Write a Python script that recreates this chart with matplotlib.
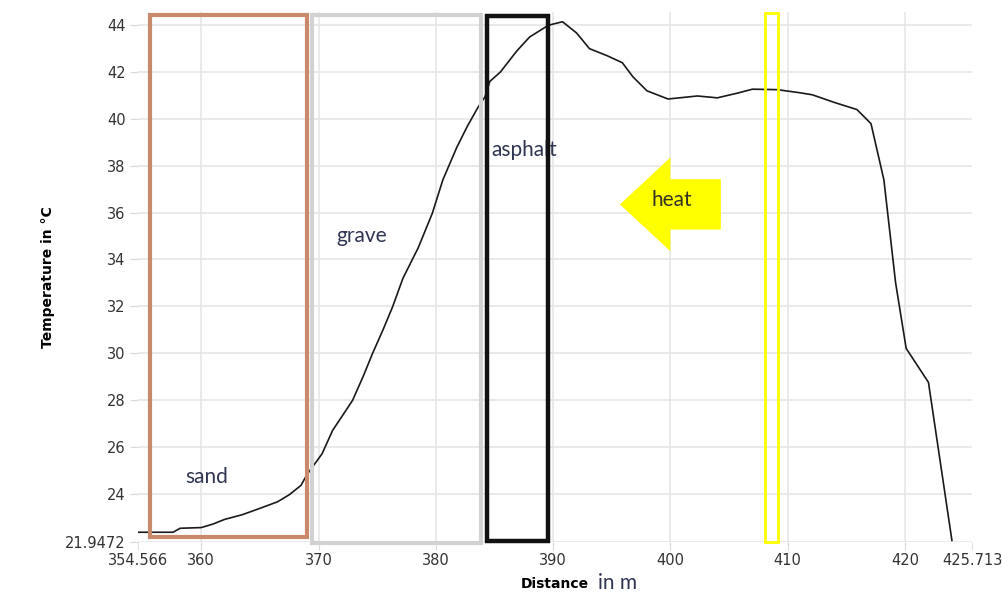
import numpy as np
import matplotlib.pyplot as plt
from matplotlib.patches import Rectangle, FancyArrow

plt.rcParams["font.family"] = ["DejaVu Sans"]

# temperature profile along the track
distance = [354.566, 357.6, 358.2, 360.0, 361.0, 362.0, 363.5, 365.0, 366.5, 367.5,
            368.5, 369.0, 369.5, 370.3, 371.2, 372.0, 372.9, 373.8, 374.6, 375.5,
            376.3, 377.2, 378.0, 378.5, 379.7, 380.6, 381.8, 382.7, 383.6, 384.2,
            384.6, 385.5, 386.9, 388.0, 389.6, 390.8, 392.0, 393.1, 394.6, 395.9,
            396.8, 398.0, 399.8, 402.3, 404.0, 405.7, 407.0, 409.1, 411.0, 412.1,
            414.0, 415.9, 417.1, 418.2, 419.2, 420.1, 422.0, 424.0]
temperature = [22.35, 22.35, 22.52, 22.55, 22.7, 22.9, 23.1, 23.37, 23.65, 23.95,
               24.35, 24.8, 25.15, 25.7, 26.7, 27.3, 27.98, 29.0, 29.98, 31.0,
               31.96, 33.2, 34.0, 34.5, 35.97, 37.4, 38.8, 39.7, 40.5, 40.95,
               41.6, 42.0, 42.9, 43.5, 44.0, 44.15, 43.67, 43.0, 42.7, 42.4,
               41.8, 41.2, 40.85, 40.98, 40.9, 41.1, 41.27, 41.25, 41.12, 41.03,
               40.7, 40.4, 39.8, 37.4, 33.0, 30.2, 28.75, 22.0]

x_min, x_max = 354.566, 425.713
y_min = 21.9472
x_ticks = [360, 370, 380, 390, 400, 410, 420]
y_ticks = [21.9472, 24, 26, 28, 30, 32, 34, 36, 38, 40, 42, 44]
y_labels = ["21.9472"] + [str(v) for v in y_ticks[1:]]

# surface zones (distance range, temperature range)
zone_names = ["sand", "grave", "asphalt", "sensor"]
zone_x0 = [355.63, 369.44, 384.35, 408.06]
zone_x1 = [369.02, 383.85, 389.6, 409.17]
zone_y0 = [22.13, 21.88, 21.97, 21.93]
zone_y1 = [44.44, 44.44, 44.40, 44.52]
zone_colors = ["#c98a6b", "#d2d2d2", "#111111", "#ffff00"]
zone_widths = [3.0, 3.0, 3.2, 2.0]

text_color = "#2f3552"
note_font = "Lato"
note_size = 15

fig = plt.figure(figsize=(10.03, 5.95), dpi=100)
ax = fig.add_axes([0.1371, 0.0896, 0.8320, 0.8904])

ax.plot(distance, temperature, color="#1a1a1a", lw=1.2, zorder=3)

for x0, x1, y0, y1, c, w in zip(zone_x0, zone_x1, zone_y0, zone_y1, zone_colors, zone_widths):
    ax.add_patch(Rectangle((x0, y0), x1 - x0, y1 - y0, fill=False, edgecolor=c,
                           lw=w, zorder=5, clip_on=False))

ax.text(360.5, 24.7, "sand", color=text_color, fontsize=note_size, family=note_font,
        ha="center", va="center", zorder=4)
ax.text(373.7, 35.0, "grave", color=text_color, fontsize=note_size, family=note_font,
        ha="center", va="center", zorder=4)
ax.text(384.7, 38.67, "asphalt", color=text_color, fontsize=note_size, family=note_font,
        ha="left", va="center", zorder=4)

# heat flow arrow
ax.add_patch(FancyArrow(404.3, 36.35, -8.6, 0, width=2.15, head_width=4.0,
                        head_length=4.3, length_includes_head=True,
                        color="#ffff00", lw=0, zorder=4))
ax.text(400.1, 36.54, "heat", color="#333322", fontsize=note_size, family=note_font,
        ha="center", va="center", zorder=6)

ax.set_xlim(x_min, x_max)
ax.set_ylim(y_min, 44.57)
ax.set_xticks(x_ticks)
ax.set_xticks([x_min, x_max], labels=["354.566", "425.713"], minor=True)
ax.set_yticks(y_ticks, labels=y_labels)
ax.grid(True, which="major", color="#e6e6e6", lw=1.2)
ax.set_axisbelow(True)
for s in ax.spines.values():
    s.set_visible(False)
ax.tick_params(which="both", length=5.5, color="#d9d9d9", labelsize=10.5,
               labelcolor="#333333", pad=3)

ax.set_xlabel("Distance", fontsize=10, fontweight="bold", labelpad=6)
ax.set_ylabel("Temperature in °C", fontsize=10, fontweight="bold", labelpad=7)
fig.text(618 / 1003, 1 - 583 / 595, "in m", color=text_color, fontsize=note_size,
         family=note_font, ha="center", va="center")

fig.savefig("out.png", dpi=100)
